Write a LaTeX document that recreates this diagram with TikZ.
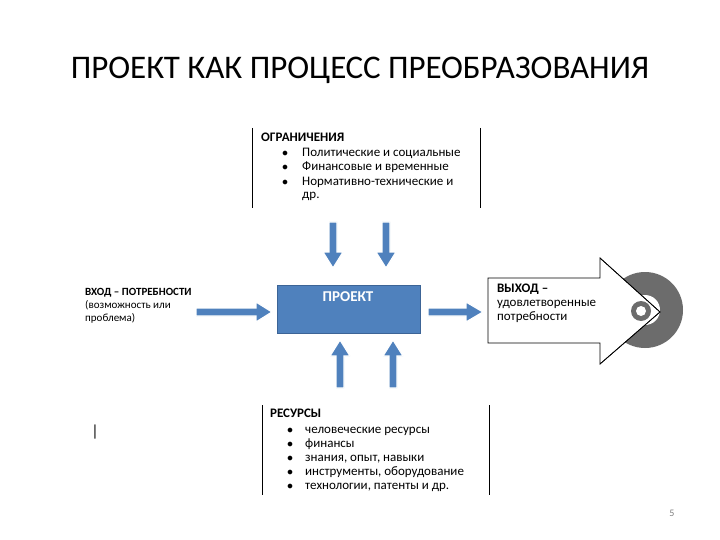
\documentclass[tikz,border=0pt]{standalone}
\usepackage{fontspec}
\setmainfont{Carlito}
\begin{document}
\begin{tikzpicture}[x=1pt,y=-1pt,
  barrow/.style={fill={rgb,255:red,79;green,129;blue,189},draw=white,line width=1.2pt},
  txt/.style={anchor=north west,align=left,inner sep=0pt,font=\fontsize{13}{14}\selectfont}]
\useasboundingbox[fill=white] (0,0) rectangle (720,540);
\node (title) at (360,70) {\fontsize{33}{36}\selectfont ПРОЕКТ КАК ПРОЦЕСС ПРЕОБРАЗОВАНИЯ};
% top box
\draw (252,128) -- (252,208) (480,128) -- (480,208);
\node[txt] (ogr) at (261,133) {\textbf{ОГРАНИЧЕНИЯ}};
\node[txt] (ogrl) at (282,147) {\begin{tabular}{@{}l@{\hspace{14pt}}l@{}}
$\bullet$ & Политические и социальные\\
$\bullet$ & Финансовые и временные\\
$\bullet$ & Нормативно-технические и\\
 & др.\end{tabular}};
% down arrows
\foreach \cx in {333,386}{
 \draw[barrow] (\cx-4,222) -- (\cx+4,222) -- (\cx+4,252) -- (\cx+10,252) -- (\cx,268) -- (\cx-10,252) -- (\cx-4,252) -- cycle;}
% up arrows
\foreach \cx in {340,393}{
 \draw[barrow] (\cx-4,388) -- (\cx+4,388) -- (\cx+4,356) -- (\cx+10,356) -- (\cx,340) -- (\cx-10,356) -- (\cx-4,356) -- cycle;}
% project
\node[draw={rgb,255:red,60;green,100;blue,150},fill={rgb,255:red,79;green,129;blue,189},minimum width=143pt,minimum height=48pt,anchor=north west,inner sep=0pt] (proj) at (277,285) {};
\node[text=white,font=\bfseries\fontsize{15}{17}\selectfont] (projt) at (348,297) {ПРОЕКТ};
% input
\node[txt,font=\fontsize{11}{13}\selectfont] (vhod) at (85,288) {\textbf{ВХОД  – ПОТРЕБНОСТИ}\\(возможность или\\проблема)};
\draw[barrow] (196,308) -- (256,308) -- (256,302) -- (272,312) -- (256,322) -- (256,316) -- (196,316) -- cycle;
\draw[barrow] (428,308) -- (466,308) -- (466,302) -- (483,312) -- (466,322) -- (466,316) -- (428,316) -- cycle;
% target and big white arrow
\fill[gray!85!black] (645,310) circle (38pt);
\fill[white] (645,310) circle (15pt);
\fill[white,draw=black,line width=0.7pt] (488,278) -- (600,278) -- (600,258) -- (660,312) -- (600,364) -- (600,343) -- (488,343) -- cycle;
\begin{scope}
\clip (600,258) -- (660,312) -- (600,364) -- cycle;
\fill[gray!85!black] (641,311) circle (10pt);
\fill[white] (641,311) circle (5pt);
\end{scope}
\draw[line width=0.7pt] (600,258) -- (660,312) -- (600,364);
\node[txt] (vyh) at (497,284) {\textbf{ВЫХОД –}\\удовлетворенные\\потребности};
% bottom box
\draw (262,405) -- (262,495) (489,405) -- (489,495);
\node[txt] (res) at (270,409) {\textbf{РЕСУРСЫ}};
\node[txt] (resl) at (287,423) {\begin{tabular}{@{}l@{\hspace{12pt}}l@{}}
$\bullet$ & человеческие ресурсы\\
$\bullet$ & финансы\\
$\bullet$ & знания, опыт, навыки\\
$\bullet$ & инструменты, оборудование\\
$\bullet$ & технологии, патенты и др.\end{tabular}};
\node (bar) at (95,432) {\fontsize{16}{18}\selectfont |};
\node[text=gray,font=\fontsize{10}{11}\selectfont] (pg) at (672,513) {5};
\end{tikzpicture}
\end{document}
